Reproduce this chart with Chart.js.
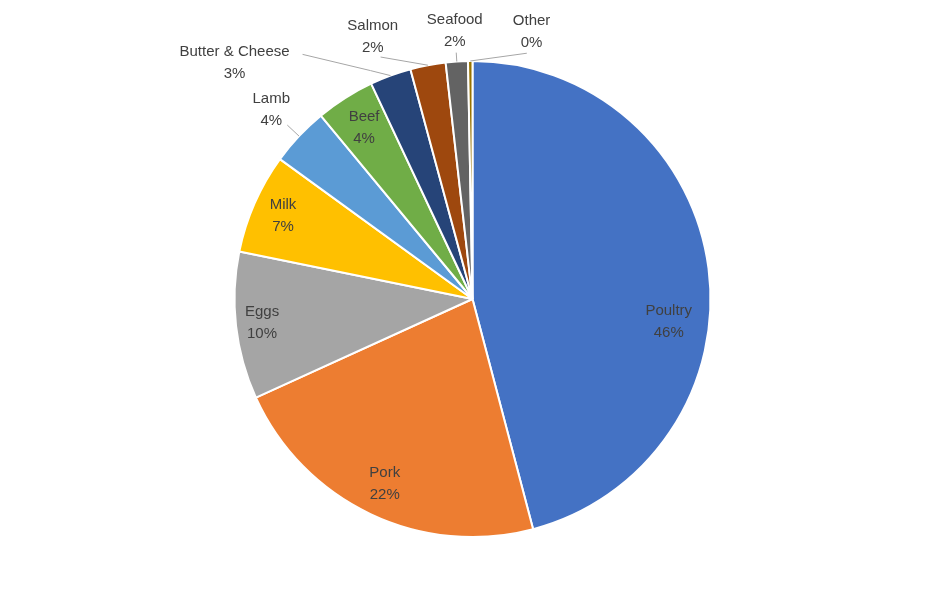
<!DOCTYPE html>
<html>
<head>
<meta charset="utf-8">
<script src="https://cdn.jsdelivr.net/npm/chart.js@4"></script>
<style>
  html, body { margin: 0; padding: 0; background: #fff; }
  #wrap { width: 945px; height: 599px; }
</style>
</head>
<body>
<div id="wrap"><canvas id="pieChart"></canvas></div>
<script>
const categories = ["Poultry", "Pork", "Eggs", "Milk", "Lamb", "Beef", "Butter & Cheese", "Salmon", "Seafood", "Other"];
const shares = [45.9, 22.3, 10.0, 6.8, 4.0, 4.0, 2.8, 2.4, 1.5, 0.3];
const colours = ["#4472c4", "#ed7d31", "#a5a5a5", "#ffc000", "#5b9bd5", "#70ad47", "#264478", "#9e480e", "#636363", "#997300"];

// label placement: radial factor, angle shift (deg), leader line?
const labelRadius = [0.83, 0.86, 0.89, 0.87, 1.16, 0.85, 1.41, 1.18, 1.13, 1.15];
const labelShift = [14, 0, 0, 0, 0, 0, -25, -10, 0, 13];
const leader = [false, false, false, false, true, false, true, true, true, true];

const pieLabels = {
  id: "pieLabels",
  afterDatasetsDraw(chart) {
    const c = chart.ctx;
    const meta = chart.getDatasetMeta(0);
    c.save();
    c.font = "15px 'Liberation Sans', Arial, sans-serif";
    c.fillStyle = "#404040";
    c.textAlign = "center";
    c.textBaseline = "middle";
    meta.data.forEach((arc, i) => {
      const p = arc.getProps(["x", "y", "startAngle", "endAngle", "outerRadius"], true);
      const mid = (p.startAngle + p.endAngle) / 2;
      const a = mid + labelShift[i] * Math.PI / 180;
      const r = p.outerRadius * labelRadius[i];
      const lx = p.x + Math.cos(a) * r;
      const ly = p.y + Math.sin(a) * r;
      if (leader[i]) {
        const ex = p.x + Math.cos(mid) * p.outerRadius;
        const ey = p.y + Math.sin(mid) * p.outerRadius;
        let tx, ty;
        if (i === 6) { tx = lx + 68; ty = ly - 8; }
        else {
          const rr = r - 22;
          tx = p.x + Math.cos(a) * rr;
          ty = p.y + Math.sin(a) * rr;
        }
        c.strokeStyle = "#a6a6a6";
        c.lineWidth = 1;
        c.beginPath();
        c.moveTo(ex, ey);
        if (i === 6) c.lineTo(ex - 20, ey - 5);
        c.lineTo(tx, ty);
        c.stroke();
      }
      c.fillText(categories[i], lx, ly - 11);
      c.fillText(Math.round(shares[i]) + "%", lx, ly + 11);
    });
    c.restore();
  }
};

new Chart(document.getElementById("pieChart").getContext("2d"), {
  type: "pie",
  data: {
    labels: categories,
    datasets: [{
      data: shares,
      backgroundColor: colours,
      borderColor: "#ffffff",
      borderWidth: 2
    }]
  },
  options: {
    responsive: true,
    maintainAspectRatio: false,
    animation: false,
    layout: { padding: { top: 60, bottom: 61, left: 0, right: 0 } },
    plugins: { legend: { display: false }, tooltip: { enabled: false } }
  },
  plugins: [pieLabels]
});
</script>
</body>
</html>
